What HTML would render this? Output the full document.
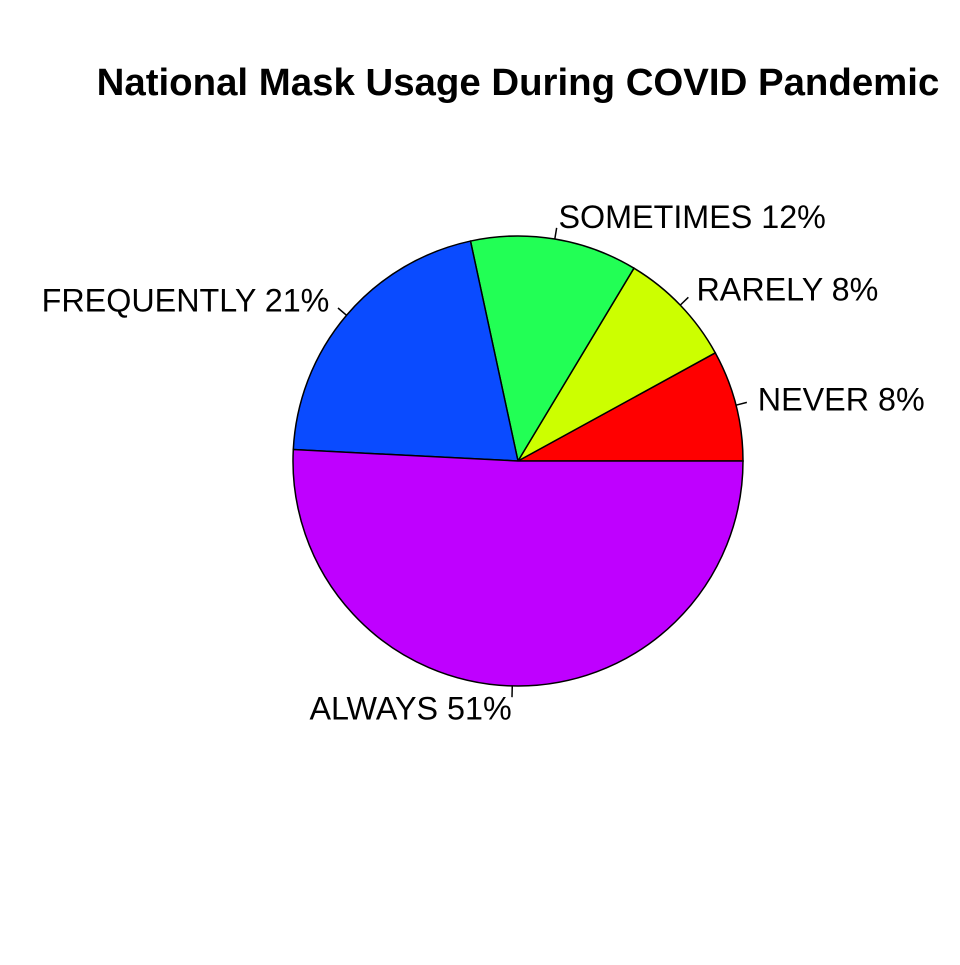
<!DOCTYPE html>
<html><head><meta charset="utf-8"><style>
body{margin:0;background:#fff}
svg text{font-family:"Liberation Sans",Arial,sans-serif}
</style></head><body>
<svg id="chart" width="960" height="960" viewBox="0 0 960 960">
<rect width="960" height="960" fill="#fff"/>
<text x="518" y="95" text-anchor="middle" font-size="38.4" font-weight="bold">National Mask Usage During COVID Pandemic</text>
<g id="slices"></g><g id="labels"></g>
</svg>
<script>
const categories = ["NEVER","RARELY","SOMETIMES","FREQUENTLY","ALWAYS"];
const values = [7.98, 8.4, 12, 20.8, 50.8];
const colors = ["#FF0000","#CCFF00","#22FF55","#0A4BFF","#BF00FF"];
const cx = 518, cy = 461, R = 225;
const ns = "http://www.w3.org/2000/svg";
const total = values.reduce((a,b)=>a+b,0);
const sg = document.getElementById("slices"), lg = document.getElementById("labels");
function pt(a, r){ return [cx + r*Math.cos(a), cy - r*Math.sin(a)]; }
let cum = 0;
values.forEach((v,i)=>{
  const a0 = cum/total*2*Math.PI; cum += v; const a1 = cum/total*2*Math.PI;
  const p0 = pt(a0,R), p1 = pt(a1,R);
  const large = (a1-a0) > Math.PI ? 1 : 0;
  const path = document.createElementNS(ns,"path");
  path.setAttribute("d",`M${cx},${cy} L${p0[0]},${p0[1]} A${R},${R} 0 ${large} 0 ${p1[0]},${p1[1]} Z`);
  path.setAttribute("fill",colors[i]); path.setAttribute("stroke","#000"); path.setAttribute("stroke-width","1.5");
  
  
  sg.appendChild(path);
  const am = (a0+a1)/2;
  const t0 = pt(am,R), t1 = pt(am,R*1.05), tp = pt(am,R*1.1);
  const ln = document.createElementNS(ns,"line");
  ln.setAttribute("x1",t0[0]); ln.setAttribute("y1",t0[1]); ln.setAttribute("x2",t1[0]); ln.setAttribute("y2",t1[1]);
  ln.setAttribute("stroke","#000"); ln.setAttribute("stroke-width","1.5");
  
  
  lg.appendChild(ln);
  const tx = document.createElementNS(ns,"text");
  tx.setAttribute("x",tp[0]); tx.setAttribute("y",tp[1]+11);
  tx.setAttribute("font-size","32.3");
  tx.setAttribute("text-anchor", Math.cos(am) < 0 ? "end" : "start");
  tx.textContent = categories[i] + " " + Math.round(v/total*100) + "%";
  
  
  lg.appendChild(tx);
});
</script>
</body></html>
